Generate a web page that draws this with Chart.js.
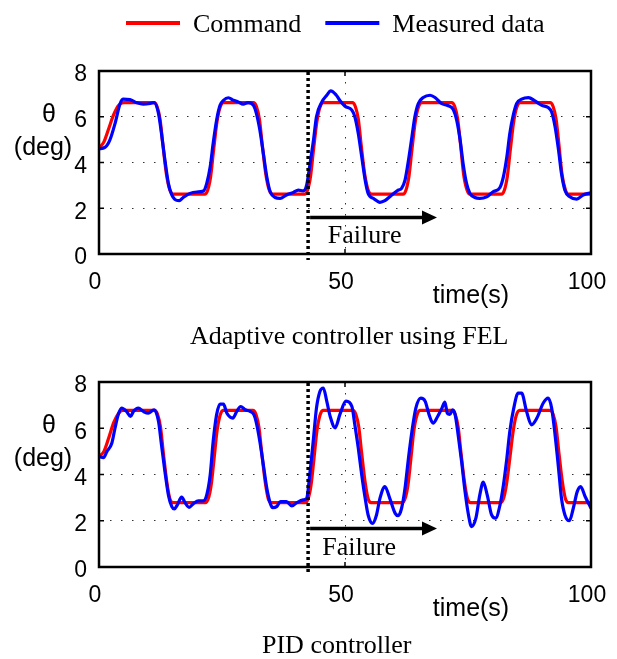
<!DOCTYPE html>
<html>
<head>
<meta charset="utf-8">
<script src="https://cdn.jsdelivr.net/npm/chart.js@4.4.1/dist/chart.umd.min.js"></script>
<style>
  html, body { margin: 0; padding: 0; background: #fff; }
  #figure { position: relative; width: 617px; height: 659px; overflow: hidden; }
  #figure canvas { position: absolute; left: 0; }
</style>
</head>
<body>
<div id="figure">
  <canvas id="fel-chart" width="617" height="355" style="top:0px"></canvas>
  <canvas id="pid-chart" width="617" height="304" style="top:355px"></canvas>
</div>
<script>
const SANS = '"Liberation Sans", Arial, sans-serif';
const SERIF = '"Liberation Serif", "Times New Roman", serif';

// axis ticks
const time_ticks = [0, 50, 100];
const angle_ticks = [0, 2, 4, 6, 8];

// failure marker (time in s)
const failure_time = 42.5;
const arrow_end_time = 68.7;

// --- Adaptive controller using FEL ---
const fel_command_t = [0, 1, 2, 3, 4, 5,
  11.2, 11.8, 12.4, 13.0, 13.7, 14.4, 15.1,
  21.5, 22.1, 22.7, 23.3, 24.0, 24.6, 25.3,
  31.4, 32.0, 32.6, 33.2, 33.9, 34.6, 35.3,
  41.8, 42.4, 43.0, 43.6, 44.3, 44.9, 45.6,
  51.5, 52.1, 52.7, 53.3, 54.0, 54.7, 55.4,
  61.8, 62.4, 63.0, 63.6, 64.3, 64.9, 65.6,
  71.7, 72.3, 72.9, 73.5, 74.1, 74.8, 75.4,
  81.8, 82.4, 83.0, 83.6, 84.3, 84.9, 85.6,
  91.7, 92.3, 92.9, 93.5, 94.1, 94.8, 95.4, 100];
const fel_command_deg = [4.62, 4.9, 5.5, 6.1, 6.5, 6.62,
  6.62, 6.45, 5.9, 4.75, 3.5, 2.8, 2.62,
  2.62, 2.8, 3.4, 4.55, 5.8, 6.4, 6.62,
  6.62, 6.45, 5.9, 4.75, 3.5, 2.8, 2.62,
  2.62, 2.8, 3.4, 4.55, 5.8, 6.4, 6.62,
  6.62, 6.45, 5.9, 4.75, 3.5, 2.8, 2.62,
  2.62, 2.8, 3.4, 4.55, 5.8, 6.4, 6.62,
  6.62, 6.45, 5.9, 4.75, 3.5, 2.8, 2.62,
  2.62, 2.8, 3.4, 4.55, 5.8, 6.4, 6.62,
  6.62, 6.45, 5.9, 4.75, 3.5, 2.8, 2.62, 2.62];

const fel_measured_t = [0, 1.2, 2.2, 3.25, 4.3, 4.95, 6.3, 7.7, 9.0, 10.4, 11.2,
  12.1, 12.7, 13.4, 14.1, 14.8, 15.4, 16.3, 17.1, 18.5, 19.9, 21.2,
  21.9, 22.6, 23.2, 23.9, 24.6, 25.3, 26.3, 27.3, 28.3, 29.3, 30.3, 31.4,
  32.0, 32.7, 33.4, 34.1, 34.8, 35.8, 36.8, 38.1, 39.5, 40.5, 41.5,
  42.2, 42.9, 43.6, 44.2, 45.3, 46.3, 47.1, 48.2, 49.0, 50.0, 51.4,
  52.0, 52.7, 53.4, 54.1, 54.7, 55.8, 57.1, 58.1, 59.5, 60.8, 61.5,
  62.2, 62.9, 63.6, 64.2, 64.9, 65.9, 67.3, 68.3, 69.6, 71.0, 72.0,
  72.7, 73.4, 74.0, 74.7, 75.4, 76.4, 77.4, 78.8, 80.1, 81.5,
  82.2, 82.9, 83.5, 84.2, 84.9, 85.9, 87.3, 88.6, 90.0, 91.3, 92.0,
  92.7, 93.4, 94.0, 94.7, 95.7, 97.1, 98.4, 100];
const fel_measured_deg = [4.6, 4.66, 4.98, 5.7, 6.58, 6.77, 6.75, 6.61, 6.55, 6.58, 6.62,
  6.14, 5.27, 4.1, 3.09, 2.58, 2.39, 2.33, 2.47, 2.65, 2.71, 2.75,
  3.09, 3.81, 4.83, 5.85, 6.5, 6.72, 6.83, 6.72, 6.65, 6.55, 6.62, 6.5,
  6.14, 5.41, 4.4, 3.38, 2.72, 2.47, 2.43, 2.58, 2.69, 2.79, 2.76,
  3.01, 3.96, 4.98, 6.0, 6.65, 6.94, 7.13, 6.95, 6.7, 6.46, 6.29,
  6.0, 5.27, 4.25, 3.23, 2.65, 2.43, 2.26, 2.33, 2.58, 2.79, 2.87,
  3.23, 4.1, 5.12, 6.0, 6.58, 6.84, 6.94, 6.84, 6.58, 6.48, 6.32,
  5.85, 4.98, 3.96, 3.09, 2.65, 2.47, 2.43, 2.5, 2.72, 2.91,
  3.38, 4.25, 5.27, 6.07, 6.58, 6.77, 6.84, 6.69, 6.5, 6.4, 6.21,
  5.56, 4.54, 3.52, 2.79, 2.5, 2.4, 2.58, 2.68];

// --- PID controller ---
const pid_command_t = [0, 1, 2, 3, 4, 4.8,
  11.3, 11.9, 12.5, 13.1, 13.8, 14.4, 15.0,
  21.6, 22.2, 22.8, 23.4, 24.0, 24.6, 25.2,
  31.3, 31.9, 32.5, 33.1, 33.8, 34.4, 35.0,
  41.9, 42.5, 43.1, 43.7, 44.3, 44.9, 45.5,
  51.6, 52.2, 52.8, 53.4, 54.1, 54.7, 55.3,
  61.6, 62.2, 62.8, 63.4, 64.0, 64.6, 65.2,
  71.8, 72.4, 73.0, 73.6, 74.3, 74.9, 75.5,
  81.6, 82.2, 82.8, 83.5, 84.2, 84.8, 85.5,
  91.7, 92.3, 92.9, 93.5, 94.2, 94.8, 95.4, 100];
const pid_command_deg = [4.77, 5.0, 5.6, 6.25, 6.65, 6.77,
  6.77, 6.6, 6.05, 4.9, 3.65, 2.95, 2.78,
  2.78, 2.95, 3.55, 4.7, 5.9, 6.55, 6.77,
  6.77, 6.6, 6.05, 4.9, 3.65, 2.95, 2.78,
  2.78, 2.95, 3.55, 4.7, 5.9, 6.55, 6.77,
  6.77, 6.6, 6.05, 4.9, 3.65, 2.95, 2.78,
  2.78, 2.95, 3.55, 4.7, 5.9, 6.55, 6.77,
  6.77, 6.6, 6.05, 4.9, 3.65, 2.95, 2.78,
  2.78, 2.95, 3.55, 4.7, 5.9, 6.55, 6.77,
  6.77, 6.6, 6.05, 4.9, 3.65, 2.95, 2.78, 2.78];

const pid_measured_t = [0, 0.9, 1.6, 2.6, 3.25, 3.9, 4.6, 5.6, 6.4, 7.0, 8.0, 9.0, 10.0, 11.2,
  12.1, 12.7, 13.4, 14.1, 14.8, 15.3, 15.9, 16.8, 17.5, 18.3, 19.2, 20.2, 21.2,
  21.9, 22.6, 23.2, 23.9, 24.6, 25.3, 26.0, 27.2, 28.0, 28.8, 29.7, 30.7, 31.5,
  32.0, 32.7, 33.4, 34.1, 34.8, 35.3, 36.1, 36.9, 38.1, 39.2, 40.2, 41.5, 42.2,
  42.9, 43.6, 44.2, 44.9, 45.6, 46.3, 47.0, 48.0, 49.0, 50.2, 51.4,
  52.0, 52.7, 53.4, 54.1, 54.7, 55.6, 56.4, 57.1, 58.1, 59.1, 60.2, 60.8, 61.5,
  62.2, 62.9, 63.6, 64.4, 65.4, 66.3, 67.1, 67.9, 68.8, 69.7, 70.3, 70.8, 71.3, 71.9, 72.4,
  73.0, 73.7, 74.4, 75.1, 75.7, 76.6, 77.4, 78.1, 78.9, 79.8, 80.6, 81.5,
  82.2, 82.9, 83.5, 84.3, 85.2, 85.9, 86.9, 87.9, 89.0, 90.3, 91.3, 92.0,
  92.7, 93.4, 94.0, 94.7, 95.6, 96.4, 97.2, 97.9, 98.8, 100];
const pid_measured_deg = [4.77, 4.73, 4.99, 5.35, 6.0, 6.58, 6.87, 6.73, 6.51, 6.73, 6.87, 6.73, 6.65, 6.8,
  6.29, 5.28, 4.13, 3.12, 2.61, 2.51, 2.68, 3.02, 2.78, 2.58, 2.74, 2.86, 2.86,
  3.12, 3.98, 5.42, 6.58, 7.04, 7.04, 6.65, 6.44, 6.73, 6.94, 6.8, 6.73, 6.58,
  6.22, 5.42, 4.42, 3.41, 2.76, 2.57, 2.61, 2.83, 2.83, 2.64, 2.78, 2.9, 2.97,
  4.13, 5.57, 6.87, 7.59, 7.74, 7.16, 6.5, 6.02, 6.62, 7.17, 6.94,
  6.15, 5.14, 3.98, 2.97, 2.25, 1.89, 2.25, 2.97, 3.48, 2.97, 2.32, 2.22, 2.54,
  3.41, 4.71, 5.86, 6.87, 7.3, 7.16, 6.58, 6.22, 6.5, 6.87, 7.13, 6.65, 6.6, 6.8, 6.58,
  5.71, 4.56, 3.26, 2.25, 1.75, 2.11, 3.12, 3.67, 3.12, 2.25, 2.11, 2.68,
  3.55, 4.71, 5.86, 6.87, 7.52, 7.52, 6.73, 6.15, 6.44, 7.09, 7.3, 6.87,
  5.71, 4.27, 2.97, 2.25, 2.0, 2.54, 3.26, 3.48, 3.05, 2.54];

function toPoints(times, values) {
  return times.map(function (t, i) {
    return { x: t, y: values[i] };
  });
}

// box, inner ticks, failure marker and labels
const figureExtras = {
  id: "figureExtras",
  afterDatasetsDraw(chart, args, opts) {
    let ctx = chart.ctx;
    let area = chart.chartArea;
    let x = chart.scales.x;
    let y = chart.scales.y;
    ctx.save();
    ctx.strokeStyle = "#000";
    ctx.fillStyle = "#000";

    // dotted failure line
    let fx = x.getPixelForValue(failure_time);
    ctx.lineWidth = 3.5;
    ctx.setLineDash([3, 3]);
    ctx.beginPath();
    ctx.moveTo(fx, area.top + 1);
    ctx.lineTo(fx, area.bottom + 6);
    ctx.stroke();
    ctx.setLineDash([]);

    // arrow
    let ay = y.getPixelForValue(opts.arrowValue);
    let ax = x.getPixelForValue(arrow_end_time);
    ctx.lineWidth = 3.5;
    ctx.beginPath();
    ctx.moveTo(fx + 2, ay);
    ctx.lineTo(ax - 12, ay);
    ctx.stroke();
    ctx.beginPath();
    ctx.moveTo(ax, ay);
    ctx.lineTo(ax - 15, ay - 7);
    ctx.lineTo(ax - 15, ay + 7);
    ctx.closePath();
    ctx.fill();

    ctx.font = "26px " + SERIF;
    ctx.textAlign = "left";
    ctx.textBaseline = "alphabetic";
    ctx.fillText("Failure", x.getPixelForValue(opts.textTime), y.getPixelForValue(opts.textValue));

    // inner tick marks
    ctx.lineWidth = 1.5;
    ctx.beginPath();
    angle_ticks.forEach(function (v) {
      let py = y.getPixelForValue(v);
      ctx.moveTo(area.left, py);
      ctx.lineTo(area.left + 5, py);
      ctx.moveTo(area.right, py);
      ctx.lineTo(area.right - 5, py);
    });
    time_ticks.forEach(function (v) {
      let px = x.getPixelForValue(v);
      ctx.moveTo(px, area.top);
      ctx.lineTo(px, area.top + 5);
      ctx.moveTo(px, area.bottom);
      ctx.lineTo(px, area.bottom - 5);
    });
    ctx.stroke();

    // box
    ctx.lineWidth = 2.5;
    ctx.strokeRect(area.left, area.top, area.right - area.left, area.bottom - area.top);

    // axis labels
    ctx.font = "25px " + SANS;
    ctx.textAlign = "center";
    ctx.textBaseline = "middle";
    ctx.fillText("\u03b8", 49, area.top + 44);
    ctx.fillText("(deg)", 43, area.top + 77);
    ctx.fillText("time(s)", area.right - 120, area.bottom + 42);

    // caption under the plot
    ctx.font = "26px " + SERIF;
    ctx.textAlign = "left";
    ctx.textBaseline = "alphabetic";
    ctx.fillText(opts.caption, opts.captionX, opts.captionY);
    ctx.restore();
  },
};

// legend drawn above the first plot
const lineLegend = {
  id: "lineLegend",
  afterDraw(chart, args, opts) {
    let ctx = chart.ctx;
    ctx.save();
    ctx.font = "26px " + SERIF;
    ctx.fillStyle = "#000";
    ctx.textAlign = "left";
    ctx.textBaseline = "alphabetic";
    let cx = opts.left;
    let items = chart.data.datasets.slice().sort(function (a, b) {
      return b.order - a.order;
    });
    items.forEach(function (ds) {
      ctx.strokeStyle = ds.borderColor;
      ctx.lineWidth = 4;
      ctx.beginPath();
      ctx.moveTo(cx, opts.lineY);
      ctx.lineTo(cx + 54, opts.lineY);
      ctx.stroke();
      cx += 54 + 13;
      ctx.fillText(ds.label, cx, opts.baseline);
      cx += ctx.measureText(ds.label).width + 24;
    });
    ctx.restore();
  },
};

function angle_chart(canvas_id, command_t, command_deg, measured_t, measured_deg, extras) {
  let tick_font = { family: SANS, size: 23 };
  let config = {
    type: "line",
    data: {
      datasets: [
        {
          label: "Command",
          data: toPoints(command_t, command_deg),
          borderColor: "#ff0000",
          backgroundColor: "#ff0000",
          borderWidth: 3.2,
          pointRadius: 0,
          cubicInterpolationMode: "monotone",
          order: 1,
        },
        {
          label: "Measured data",
          data: toPoints(measured_t, measured_deg),
          borderColor: "#0000ff",
          backgroundColor: "#0000ff",
          borderWidth: 3.2,
          pointRadius: 0,
          cubicInterpolationMode: "monotone",
          order: 0,
        },
      ],
    },
    options: {
      responsive: false,
      animation: false,
      devicePixelRatio: 1,
      layout: { padding: { top: extras.padTop, right: 26, bottom: 0, left: 0 } },
      plugins: {
        legend: { display: false },
        tooltip: { enabled: false },
        figureExtras: extras,
        lineLegend: extras.legend,
      },
      scales: {
        x: {
          type: "linear",
          min: 0,
          max: 100,
          ticks: {
            stepSize: 50,
            font: tick_font,
            color: "#000",
            padding: 15,
            labelOffset: -4,
            maxRotation: 0,
          },
          grid: { color: "#333", lineWidth: 1, drawTicks: false },
          border: { display: false, dash: [1.5, 9.5] },
          afterFit: function (scale) {
            scale.height = extras.xAxisHeight;
            scale.paddingLeft = 0;
            scale.paddingRight = 0;
          },
        },
        y: {
          min: 0,
          max: 8,
          ticks: {
            stepSize: 2,
            font: tick_font,
            color: "#000",
            padding: 12,
            labelOffset: 4,
          },
          grid: { color: "#333", lineWidth: 1, drawTicks: false },
          border: { display: false, dash: [1.5, 9.5] },
          afterFit: function (scale) {
            scale.width = 99;
            scale.paddingTop = 0;
            scale.paddingBottom = 0;
          },
        },
      },
    },
    plugins: [figureExtras, lineLegend],
  };
  return new Chart(document.getElementById(canvas_id), config);
}

let fel_chart = angle_chart("fel-chart", fel_command_t, fel_command_deg, fel_measured_t, fel_measured_deg, {
  padTop: 71,
  xAxisHeight: 101,
  arrowValue: 1.6,
  textTime: 46.5,
  textValue: 0.47,
  caption: "Adaptive controller using FEL",
  captionX: 190,
  captionY: 344,
  legend: { left: 126, lineY: 23, baseline: 32 },
});

let pid_chart = angle_chart("pid-chart", pid_command_t, pid_command_deg, pid_measured_t, pid_measured_deg, {
  padTop: 27,
  xAxisHeight: 92,
  arrowValue: 1.67,
  textTime: 45.4,
  textValue: 0.52,
  caption: "PID controller",
  captionX: 262,
  captionY: 298,
  legend: false,
});
</script>
</body>
</html>
